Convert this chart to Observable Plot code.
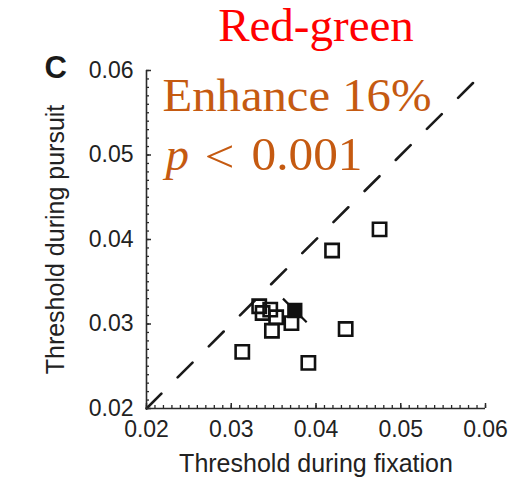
<!DOCTYPE html>
<html>
<head>
<meta charset="utf-8">
<script src="https://cdn.jsdelivr.net/npm/d3@7"></script>
<script src="https://cdn.jsdelivr.net/npm/@observablehq/plot@0.6"></script>
<style>
  body { margin: 0; background: #fff; }
  svg { overflow: visible; }
</style>
</head>
<body>
<div id="chart"></div>
<script>
// Per-observer contrast thresholds (red-green stimuli)
const fixation = [0.0475, 0.0419, 0.0435, 0.0391, 0.0313, 0.0333, 0.0346, 0.0337, 0.0353, 0.0348, 0.0371];
const pursuit  = [0.0412, 0.0387, 0.0294, 0.0254, 0.0267, 0.0321, 0.0317, 0.0313, 0.0308, 0.0292, 0.0301];

// Group mean and its error (drawn perpendicular to the unity line)
const meanPoint = [0.0375, 0.0316];
const meanErr = 0.0014;

// Axis ticks
const majorTicks = [0.02, 0.03, 0.04, 0.05, 0.06];
const tickLabels = ["0.02", "0.03", "0.04", "0.05", "0.06"];
const minorTicks = d3.range(20, 61).map(v => v / 1000);
const unityLine = [0.02, 0.06];

const title = "Red-green";
const panelLetter = "C";
const effectText = "Enhance 16%";
const pSymbol = "p";
const lessThan = "<";
const pValue = "0.001";
const xTitle = "Threshold during fixation";
const yTitle = "Threshold during pursuit";

const points = fixation.map((x, i) => ({x, y: pursuit[i]}));
const fmt = d => tickLabels[majorTicks.indexOf(d)];
const axisColor = "#2a2a2a";
const orange = "#c55a11";
const serif = "'Liberation Serif', 'Times New Roman', serif";

const chart = Plot.plot({
  width: 513,
  height: 481,
  marginLeft: 146,
  marginRight: 28,
  marginTop: 70,
  marginBottom: 73,
  x: {domain: [0.02, 0.06], label: null},
  y: {domain: [0.02, 0.06], label: null},
  style: {fontFamily: "'Liberation Sans', Arial, sans-serif", fontSize: "23px", color: "#222", background: "#fff"},
  marks: [
    // unity line
    Plot.line(unityLine, {x: d => d, y: d => d, stroke: "#1a1a1a", strokeWidth: 2.6, strokeDasharray: "21,23"}),
    // axis lines
    Plot.ruleX([0.02], {stroke: axisColor, strokeWidth: 1.6}),
    Plot.ruleY([0.02], {stroke: axisColor, strokeWidth: 1.6}),
    // inward minor and major ticks
    Plot.axisX({ticks: minorTicks, tickSize: -3, tickFormat: () => "", stroke: axisColor, strokeWidth: 1.3}),
    Plot.axisY({ticks: minorTicks, tickSize: -3, tickFormat: () => "", stroke: axisColor, strokeWidth: 1.3}),
    Plot.axisX({ticks: majorTicks, tickSize: -5, tickFormat: () => "", stroke: axisColor, strokeWidth: 1.5}),
    Plot.axisY({ticks: majorTicks, tickSize: -5, tickFormat: () => "", stroke: axisColor, strokeWidth: 1.5}),
    // tick labels
    Plot.axisX({ticks: majorTicks, tickSize: 0, tickPadding: 12, tickFormat: fmt, fill: "#222"}),
    Plot.axisY({ticks: majorTicks, tickSize: 0, tickPadding: 13, tickFormat: fmt, fill: "#222"}),
    // observers
    Plot.dot(points, {x: "x", y: "y", symbol: "square", r: 7.5, fill: "none", stroke: "#111", strokeWidth: 2.6}),
    // group mean
    Plot.link([meanPoint], {
      x1: d => d[0] - meanErr, y1: d => d[1] + meanErr,
      x2: d => d[0] + meanErr, y2: d => d[1] - meanErr,
      stroke: "#111", strokeWidth: 2.2
    }),
    Plot.dot([meanPoint], {x: d => d[0], y: d => d[1], symbol: "square", r: 7.5, fill: "#111", stroke: "#111", strokeWidth: 2}),
    // axis titles
    Plot.text([xTitle], {frameAnchor: "bottom", lineAnchor: "bottom", dy: 63, fontSize: 25, fill: "#222"}),
    Plot.text([yTitle], {frameAnchor: "left", textAnchor: "middle", lineAnchor: "bottom", rotate: -90, dx: -83, fontSize: 25, fill: "#222"}),
    // panel letter and title
    Plot.text([panelLetter], {frameAnchor: "top-left", textAnchor: "start", lineAnchor: "bottom", dx: -102, dy: 7, fontSize: 31, fontWeight: "bold", fill: "#1a1a1a"}),
    Plot.text([title], {frameAnchor: "top", lineAnchor: "bottom", dy: -30, fontSize: 47, fontFamily: serif, fill: "#ff0000"}),
    // statistics
    Plot.text([effectText], {frameAnchor: "top-left", textAnchor: "start", lineAnchor: "bottom", dx: 16, dy: 40, fontSize: 47, fontFamily: serif, fill: orange}),
    Plot.text([pSymbol], {frameAnchor: "top-left", textAnchor: "start", lineAnchor: "bottom", dx: 19, dy: 99, fontSize: 47, fontStyle: "italic", fontFamily: serif, fill: orange}),
    Plot.text([lessThan], {frameAnchor: "top-left", textAnchor: "start", lineAnchor: "bottom", dx: 58, dy: 101, fontSize: 47, fontFamily: serif, fill: orange}),
    Plot.text([pValue], {frameAnchor: "top-left", textAnchor: "start", lineAnchor: "bottom", dx: 105, dy: 99, fontSize: 47, fontFamily: serif, fill: orange})
  ]
});

// the statistics are set in a slightly wider face: widen the glyphs to suit
const widths = {[effectText]: 269, [pValue]: 111, [lessThan]: 30};
chart.querySelectorAll("text").forEach(t => {
  const w = widths[t.textContent];
  if (w) {
    t.setAttribute("textLength", w);
    t.setAttribute("lengthAdjust", "spacingAndGlyphs");
  }
});

document.getElementById("chart").appendChild(chart);
</script>
</body>
</html>
